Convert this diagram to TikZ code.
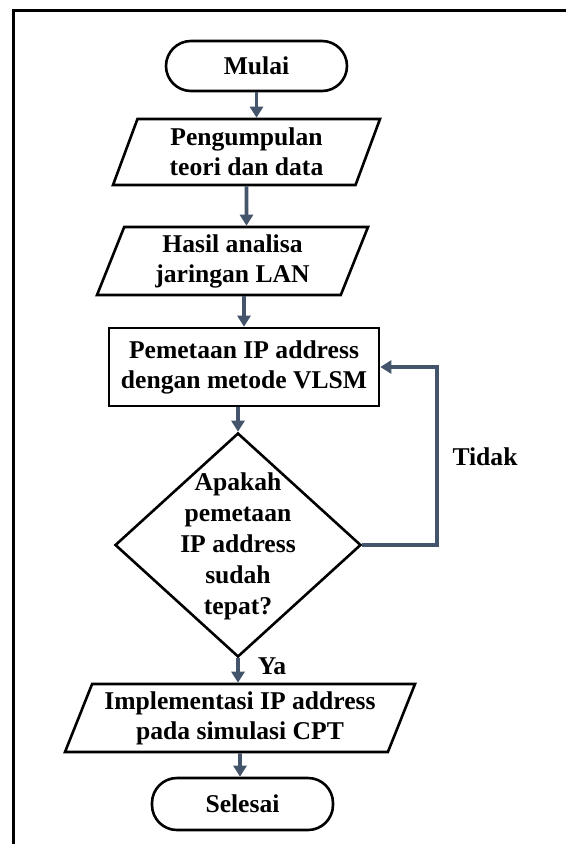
\documentclass[tikz,border=0pt]{standalone}
\usepackage{fontspec}
\setmainfont{Liberation Serif}
\usetikzlibrary{arrows.meta,shapes.geometric}
\definecolor{arrcol}{HTML}{44546A}
\begin{document}
\begin{tikzpicture}[x=1pt,y=-1pt,
  base/.style={font=\fontsize{25.6}{30}\selectfont\bfseries, align=center, inner sep=0pt},
  shp/.style={base, draw=black, line width=2.6pt},
  term/.style={shp, rectangle, rounded corners=25pt, minimum width=181pt, minimum height=50pt},
  para/.style={shp, trapezium, trapezium left angle=63, trapezium right angle=117, trapezium stretches body},
  proc/.style={shp, rectangle, minimum width=270pt, minimum height=78pt},
  dia/.style={draw=black, line width=2.6pt, diamond, minimum width=246pt, minimum height=224pt, inner sep=0pt},
  arr/.style={draw=arrcol, line width=3.8pt, -{Triangle[width=13pt,length=11pt]}},
  lbl/.style={base}
]
\useasboundingbox (0,0) rectangle (566,844);
\draw[line width=3pt] (13,844) -- (13,10.5) -- (566,10.5);

\node[term] (start) at (256.5,66) {Mulai};
\node[para, minimum width=267pt, minimum height=66pt] (p1) at (246.5,152) {Pengumpulan\\teori dan data};
\node[para, minimum width=271pt, minimum height=68pt] (p2) at (232.5,261) {Hasil analisa\\jaringan LAN};
\node[proc] (r) at (244,367) {Pemetaan IP address\\dengan metode VLSM};
\node[dia] (d) at (238,545) {};
\node[base, font=\fontsize{25.6}{31}\selectfont\bfseries] (dt) at (238,546) {Apakah\\pemetaan\\IP address\\sudah\\tepat?};
\node[para, minimum width=350pt, minimum height=68pt] (p3) at (240,718) {Implementasi IP address\\pada simulasi CPT};
\node[term, minimum height=52pt] (end) at (242.5,804) {Selesai};
\node[lbl] (tidak) at (485,457) {Tidak};
\node[lbl] (ya) at (272,666) {Ya};
\coordinate (lp) at (437,545);

\draw[arr] (start) -- (start |- p1.north);
\draw[arr] (p1) -- (p1 |- p2.north);
\draw[arr] (p2.south -| r) -- (r);
\draw[arr] (r.south -| d) -- (d);
\draw[arr] (d) -- (d |- p3.north);
\draw[arr] (p3) -- (p3 |- end.north);
\draw[arr] (d.east) -- (lp) |- (r.east);
\end{tikzpicture}
\end{document}
